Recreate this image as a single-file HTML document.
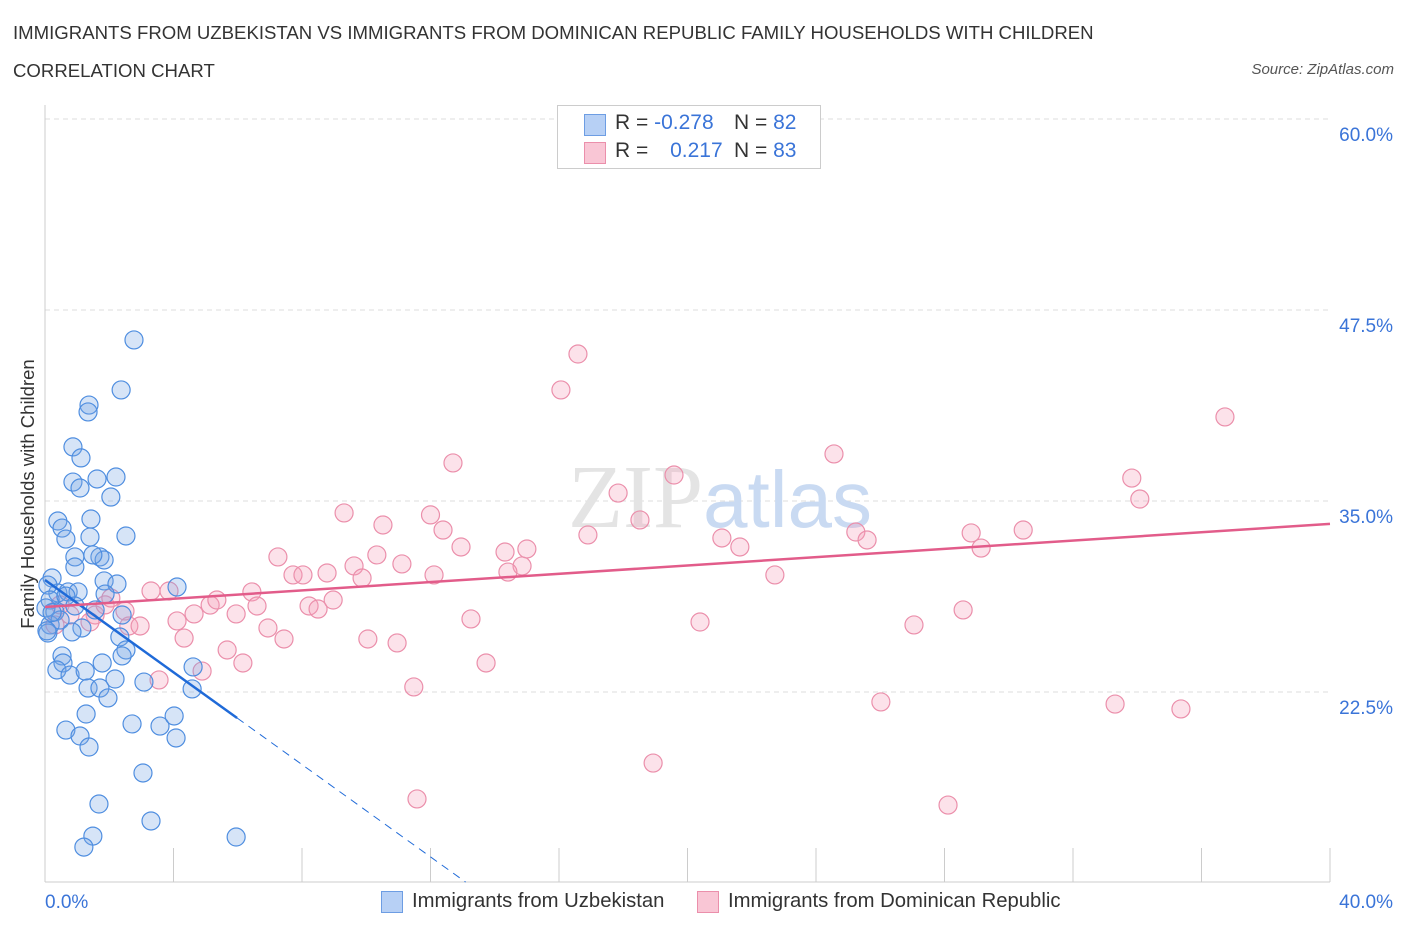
<!DOCTYPE html>
<html><head><meta charset="utf-8"><style>
body{margin:0;background:#fff;font-family:"Liberation Sans",sans-serif;}
#wrap{position:relative;width:1406px;height:930px;overflow:hidden;}
.t{position:absolute;white-space:nowrap;}
</style></head><body>
<div id="wrap">
<div class="t" style="left:13px;top:22px;font-size:18.6px;color:#333;">IMMIGRANTS FROM UZBEKISTAN VS IMMIGRANTS FROM DOMINICAN REPUBLIC FAMILY HOUSEHOLDS WITH CHILDREN</div>
<div class="t" style="left:13px;top:60px;font-size:18.6px;color:#333;">CORRELATION CHART</div>
<div class="t" style="right:12px;top:61px;font-size:15px;color:#555;font-style:italic;">Source: ZipAtlas.com</div>
<svg id="svg" width="1406" height="930" style="position:absolute;left:0;top:0"></svg>
</div>
<script>
const xTicks=["0.0%","40.0%"];
const yTickVals=[22.5,35,47.5,60];
const yTickLabels=["22.5%","35.0%","47.5%","60.0%"];
const blueX=[2.77,2.37,1.37,1.34,0.87,1.12,0.87,1.09,1.62,2.21,2.05,0.40,0.53,0.65,1.43,1.40,2.52,0.93,1.71,1.84,1.49,0.93,1.84,2.24,4.11,0.22,0.40,0.72,1.03,1.87,0.09,0.16,0.31,0.16,0.09,0.47,0.65,0.93,1.15,0.84,1.56,2.40,2.33,2.52,2.40,0.53,0.56,0.37,0.78,1.25,1.78,2.18,3.08,4.61,4.58,1.34,1.71,1.96,1.28,0.65,1.09,1.37,2.71,3.58,4.02,4.08,3.05,1.68,1.49,1.21,3.30,5.95,0.03,0.06,0.22];
const blueY=[45.54,42.27,41.28,40.83,38.54,37.82,36.24,35.85,36.44,36.57,35.26,33.69,33.23,32.51,33.82,32.64,32.71,31.34,31.34,31.14,31.47,30.68,29.77,29.57,29.37,29.96,28.98,29.05,29.05,28.91,29.5,28.52,27.74,26.89,26.36,27.21,28.78,28.13,26.69,26.43,27.87,27.54,26.1,25.25,24.86,24.86,24.4,23.94,23.61,23.87,24.4,23.35,23.15,24.14,22.7,22.76,22.76,22.11,21.06,20.01,19.62,18.9,20.41,20.27,20.93,19.49,17.2,15.17,13.07,12.35,14.06,13.01,28.0,26.5,27.7];
const pinkX=[16.59,16.06,36.73,12.7,19.58,24.56,33.83,34.08,17.84,18.52,16.9,9.31,10.52,12.0,12.39,12.95,14.32,15.0,14.85,14.41,21.07,21.63,25.24,25.59,28.83,29.14,30.45,22.72,7.25,7.72,8.03,8.78,9.62,9.87,10.33,11.11,12.11,3.3,3.86,6.44,5.14,5.35,6.6,8.22,8.5,8.97,5.95,4.64,4.11,2.61,2.96,6.94,7.44,4.33,5.67,6.16,4.89,10.05,10.96,13.26,13.73,11.48,3.55,20.39,27.05,28.58,26.02,33.31,35.36,18.93,11.58,28.11,0.47,0.78,1.56,1.87,1.4,0.31,2.05,2.49];
const pinkY=[44.62,42.27,40.5,37.49,36.7,38.08,36.5,35.13,35.52,33.76,32.78,34.22,33.43,34.09,33.1,31.99,31.66,31.86,30.75,30.35,32.58,31.99,32.97,32.45,32.91,31.92,33.1,30.16,31.34,30.16,30.16,30.29,30.75,29.96,31.47,30.88,30.16,29.11,29.11,29.05,28.19,28.52,28.13,28.13,27.93,28.52,27.61,27.61,27.15,26.82,26.82,26.69,25.97,26.03,25.25,24.4,23.87,25.97,25.71,27.28,24.4,22.83,23.29,27.08,26.89,27.87,21.85,21.71,21.39,17.85,15.5,15.1,28.2,27.54,27.54,28.2,27.08,26.89,28.65,27.8];
const blueLine=[29.83,-1.51];
const pinkLine=[28.06,0.136];
const blueSolidEnd=5.98;

const X=v=>45+v*1285/40;
const Y=v=>692-(v-22.5)*191/12.5;
const svg=document.getElementById('svg');
const NS='http://www.w3.org/2000/svg';
function mk(t,a){const e=document.createElementNS(NS,t);for(const k in a)e.setAttribute(k,a[k]);svg.appendChild(e);return e;}
yTickVals.forEach((v,i)=>{
 const g=mk('line',{x1:45,x2:1330,y1:Y(v),y2:Y(v),stroke:'#ddd','stroke-dasharray':'5,4'});
 
 
 const t=mk('text',{x:1393,y:Y(v)+22,'text-anchor':'end','font-size':19,fill:'#3a74d8','font-family':'Liberation Sans'});
 t.textContent=yTickLabels[i];
 
 
});
for(let i=0;i<=10;i++){
 const l=mk('line',{x1:X(i*4),x2:X(i*4),y1:848,y2:882,stroke:'#ccc'});
 
 
}
mk('line',{x1:45,x2:45,y1:105,y2:882,stroke:'#ccc'});
mk('line',{x1:45,x2:1330,y1:882,y2:882,stroke:'#ccc'});
const wm=mk('text',{x:720,y:527,'text-anchor':'middle','font-size':90,fill:'#e4e4e4','font-family':'Liberation Serif'});
wm.innerHTML='ZIP<tspan fill="#c9daf2" font-family="Liberation Sans" font-size="80">atlas</tspan>';


pinkX.forEach((x,i)=>{
 const c=mk('circle',{cx:X(x),cy:Y(pinkY[i]),r:9,fill:'rgba(244,160,185,0.3)',stroke:'#eb8fab','stroke-width':1.2});
 
 
});
blueX.forEach((x,i)=>{
 const c=mk('circle',{cx:X(x),cy:Y(blueY[i]),r:9,fill:'rgba(120,165,230,0.3)',stroke:'#4f8ee0','stroke-width':1.2});
 
 
});
const yb=x=>blueLine[0]+blueLine[1]*x;
const bl=mk('line',{x1:X(0),y1:Y(yb(0)),x2:X(blueSolidEnd),y2:Y(yb(blueSolidEnd)),stroke:'#1f6ad8','stroke-width':2.5});


const xe=(blueLine[0]-10.06)/-blueLine[1];
const bd=mk('line',{x1:X(blueSolidEnd),y1:Y(yb(blueSolidEnd)),x2:X(xe),y2:Y(yb(xe)),stroke:'#1f6ad8','stroke-width':1,'stroke-dasharray':'8,6'});


const pl=mk('line',{x1:X(0),y1:Y(pinkLine[0]),x2:X(40),y2:Y(pinkLine[0]+pinkLine[1]*40),stroke:'#e25c8a','stroke-width':2.5});


const xl0=mk('text',{x:45,y:908,'font-size':19,fill:'#3a74d8','font-family':'Liberation Sans'});xl0.textContent=xTicks[0];


const xl1=mk('text',{x:1393,y:908,'text-anchor':'end','font-size':19,fill:'#3a74d8','font-family':'Liberation Sans'});xl1.textContent=xTicks[1];


</script>
<div class="t" style="left:28px;top:494px;font-size:18.5px;color:#333;transform:translate(-50%,-50%) rotate(-90deg);">Family Households with Children</div>
<div style="position:absolute;left:557px;top:105px;width:262px;height:62px;border:1px solid #ccc;background:#fff;font-size:21px;color:#333;">
 <div style="position:absolute;left:26px;top:8px;width:20px;height:20px;background:#b7d0f5;border:1px solid #6d9de3;"></div>
 <div class="t" style="left:57px;top:5px;">R = <span style="color:#3a74d8">-0.278</span></div>
 <div class="t" style="left:176px;top:5px;">N = <span style="color:#3a74d8">82</span></div>
 <div style="position:absolute;left:26px;top:36px;width:20px;height:20px;background:#f9c6d5;border:1px solid #eb8fab;"></div>
 <div class="t" style="left:57px;top:33px;">R = <span style="color:#3a74d8;margin-left:16px">0.217</span></div>
 <div class="t" style="left:176px;top:33px;">N = <span style="color:#3a74d8">83</span></div>
</div>
<div style="position:absolute;left:381px;top:891px;font-size:20.3px;color:#333;">
 <div style="position:absolute;left:0;top:0;width:20px;height:20px;background:#b7d0f5;border:1px solid #6d9de3;"></div>
 <div class="t" style="left:31px;top:-1px;">Immigrants from Uzbekistan</div>
</div>
<div style="position:absolute;left:697px;top:891px;font-size:20.3px;color:#333;">
 <div style="position:absolute;left:0;top:0;width:20px;height:20px;background:#f9c6d5;border:1px solid #eb8fab;"></div>
 <div class="t" style="left:31px;top:-1px;">Immigrants from Dominican Republic</div>
</div>
</body></html>
